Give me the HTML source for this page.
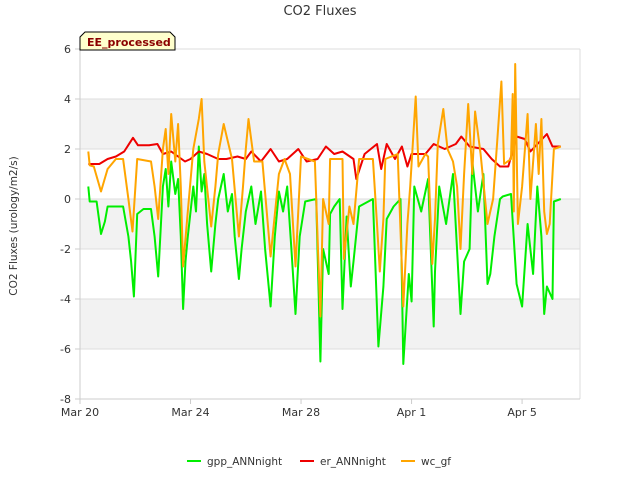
<!DOCTYPE html>
<html><head><meta charset="utf-8"><style>
body{margin:0;background:#fff;font-family:"Liberation Sans",sans-serif;}
svg text{font-family:"DejaVu Sans","Liberation Sans",sans-serif;}
</style></head><body>
<svg id="chart" width="640" height="480" viewBox="0 0 640 480">
<text x="320" y="15" text-anchor="middle" font-size="13" fill="#333">CO2 Fluxes</text>
<text transform="translate(17,226) rotate(-90)" text-anchor="middle" font-size="10.5" fill="#333">CO2 Fluxes (urology/m2/s)</text>
<g id="bands"></g><g id="grid"></g><g id="series"></g><g id="axes"></g>
<g>
<path d="M80,37 L85,32 L170,32 L175,37 L175,50 L80,50 Z" fill="#ffffcc" stroke="#000" stroke-width="1"/>
<text x="87" y="46" font-size="11" font-weight="bold" fill="#8b0000">EE_processed</text>
</g>
<g id="legend"></g>
</svg>
<script>
const yTicks=[6,4,2,0,-2,-4,-6,-8];
const xTickDays=[0,4,8,12,16];
const xTickLabels=["Mar 20","Mar 24","Mar 28","Apr 1","Apr 5"];
const gppT=[0.3,0.35,0.6,0.76,0.9,1.0,1.3,1.56,1.75,1.85,1.95,2.07,2.3,2.57,2.7,2.83,3.0,3.1,3.2,3.3,3.45,3.55,3.65,3.73,3.82,3.9,4.1,4.2,4.3,4.4,4.5,4.6,4.75,4.9,5.0,5.2,5.35,5.5,5.6,5.75,5.85,6.0,6.2,6.35,6.55,6.7,6.9,7.05,7.2,7.35,7.5,7.65,7.8,7.95,8.15,8.55,8.7,8.8,9.0,9.05,9.2,9.4,9.5,9.65,9.8,9.9,10.1,10.6,10.8,10.98,11.1,11.35,11.6,11.7,11.9,12.0,12.1,12.35,12.6,12.8,12.85,13.0,13.25,13.5,13.77,13.9,14.1,14.2,14.4,14.6,14.75,14.85,15.0,15.2,15.3,15.6,15.8,16.0,16.2,16.4,16.55,16.7,16.8,16.9,17.1,17.15,17.4];
const gppV=[0.5,-0.1,-0.1,-1.4,-0.9,-0.3,-0.3,-0.3,-1.5,-2.5,-3.9,-0.6,-0.4,-0.4,-1.5,-3.1,0.5,1.2,-0.3,1.5,0.2,0.8,-1.5,-4.4,-2.5,-1.5,0.5,-0.5,2.1,0.3,1.0,-1.0,-2.9,-1.0,0.0,1.0,-0.5,0.2,-1.5,-3.2,-2.0,-0.5,0.5,-1.0,0.3,-2.0,-4.3,-1.5,0.3,-0.5,0.5,-2.0,-4.6,-1.5,-0.1,0.0,-6.5,-2.0,-3.0,-0.6,-0.3,0.0,-4.4,-0.7,-3.5,-2.5,-0.3,0.0,-5.9,-3.5,-0.8,-0.3,0.0,-6.6,-3.0,-4.1,0.5,-0.5,0.8,-5.1,-2.9,0.5,-1.0,1.0,-4.6,-2.5,-2.0,1.5,-0.5,1.0,-3.4,-3.0,-1.5,0.0,0.1,0.2,-3.4,-4.3,-1.0,-3.0,0.5,-1.5,-4.6,-3.5,-4.0,-0.1,0.0];
const erT=[0.3,0.7,1.0,1.3,1.6,1.92,2.1,2.5,2.8,3.0,3.3,3.55,3.8,4.0,4.3,4.6,5.0,5.3,5.7,6.0,6.2,6.55,6.9,7.2,7.5,7.9,8.2,8.6,8.9,9.0,9.2,9.5,9.9,10.0,10.3,10.75,10.9,11.1,11.4,11.65,11.85,12.0,12.5,12.8,13.2,13.6,13.8,14.1,14.6,14.9,15.2,15.5,15.8,16.1,16.3,16.9,17.1,17.4];
const erV=[1.4,1.4,1.6,1.7,1.9,2.45,2.15,2.15,2.2,1.8,1.9,1.7,1.5,1.6,1.9,1.8,1.6,1.6,1.7,1.6,1.9,1.5,2.0,1.5,1.6,2.0,1.5,1.6,2.1,2.0,1.8,1.9,1.6,0.8,1.8,2.2,1.2,2.2,1.6,2.1,1.3,1.8,1.8,2.2,2.0,2.2,2.5,2.1,2.0,1.6,1.3,1.3,2.5,2.4,1.9,2.6,2.1,2.1];
const wcT=[0.3,0.35,0.5,0.76,1.0,1.3,1.56,1.75,1.9,2.07,2.57,2.7,2.83,3.0,3.1,3.2,3.3,3.45,3.55,3.65,3.73,3.9,4.1,4.3,4.4,4.5,4.75,4.9,5.0,5.2,5.5,5.75,5.9,6.0,6.1,6.3,6.6,6.9,7.2,7.4,7.6,7.8,8.0,8.5,8.7,8.8,9.0,9.05,9.5,9.55,9.75,9.9,10.1,10.6,10.75,10.85,10.98,11.05,11.5,11.7,11.85,11.95,12.15,12.25,12.5,12.6,12.75,12.85,12.95,13.15,13.3,13.5,13.65,13.77,13.9,14.05,14.2,14.3,14.5,14.75,14.95,15.1,15.25,15.35,15.6,15.66,15.7,15.75,15.85,16.0,16.2,16.3,16.5,16.6,16.7,16.8,16.9,17.0,17.1,17.15,17.4];
const wcV=[1.9,1.35,1.3,0.3,1.2,1.6,1.6,0.0,-1.3,1.6,1.5,0.5,-0.8,2.0,2.8,1.0,3.4,1.5,3.0,0.5,-2.7,-0.5,2.0,3.2,4.0,1.5,-1.1,0.5,1.8,3.0,1.6,-1.5,0.5,2.0,3.2,1.5,1.5,-2.3,1.0,1.6,1.0,-2.7,1.7,1.5,-4.7,0.0,-1.0,1.6,1.6,-2.4,-0.3,-1.0,1.6,1.6,-1.0,-2.9,-0.8,1.6,1.8,-4.3,-1.0,0.5,4.1,1.3,1.8,1.7,-2.6,-0.8,2.2,3.6,2.0,1.5,0.5,-2.0,1.0,3.8,1.0,3.5,1.8,-1.0,0.0,2.3,4.7,1.4,1.6,4.2,-0.5,5.4,-1.0,0.5,3.4,0.0,3.0,1.0,3.2,-0.5,-1.4,-1.0,1.0,2.0,2.1];
const NS="http://www.w3.org/2000/svg";
const X0=80,X1=580,Y0=49,Y1=399,PXD=27.63;
function xs(t){return X0+t*PXD;}
function ys(v){return 199-v*25;}
function mk(tag,attrs,parent){const e=document.createElementNS(NS,tag);for(const k in attrs)e.setAttribute(k,attrs[k]);parent.appendChild(e);return e;}
const bands=document.getElementById('bands'),grid=document.getElementById('grid'),axes=document.getElementById('axes'),series=document.getElementById('series'),legend=document.getElementById('legend');
mk('rect',{x:X0,y:Y0,width:X1-X0,height:Y1-Y0,fill:'#fff'},bands);
for(let i=0;i<yTicks.length-1;i++){
  if(i%2===1){const r=mk('rect',{x:X0,y:ys(yTicks[i]),width:X1-X0,height:ys(yTicks[i+1])-ys(yTicks[i]),fill:'#f2f2f2'},bands);
  
  }
}
yTicks.forEach(v=>{
  const l=mk('line',{x1:X0,x2:X1,y1:ys(v),y2:ys(v),stroke:'#ddd','stroke-width':1},grid);
  
  
  const tk=mk('line',{x1:X0-5,x2:X0,y1:ys(v),y2:ys(v),stroke:'#ccc'},axes);
  
  
  const t=mk('text',{x:71,y:ys(v)+4,'text-anchor':'end','font-size':11,fill:'#333'},axes);t.textContent=v;
  
  
});
mk('line',{x1:X0,x2:X0,y1:Y0,y2:Y1,stroke:'#ccc'},axes);
mk('line',{x1:X1,x2:X1,y1:Y0,y2:Y1,stroke:'#ddd'},axes);
mk('line',{x1:X0,x2:X1,y1:Y1,y2:Y1,stroke:'#ccc'},axes);
xTickDays.forEach((d,i)=>{
  const tk=mk('line',{x1:xs(d),x2:xs(d),y1:Y1,y2:Y1+5,stroke:'#ccc'},axes);
  
  
  const t=mk('text',{x:xs(d),y:416,'text-anchor':'middle','font-size':11,fill:'#333'},axes);t.textContent=xTickLabels[i];
  
  
});
function line(T,V,color,name){
  const p=mk('polyline',{points:T.map((t,i)=>xs(t).toFixed(1)+','+ys(V[i]).toFixed(1)).join(' '),fill:'none',stroke:color,'stroke-width':2,'stroke-linejoin':'round'},series);
  
  
}
line(gppT,gppV,'#00ee00','gpp-annnight-line');
line(erT,erV,'#ee0000','er-annnight-line');
line(wcT,wcV,'#ffa500','wc-gf-line');
const leg=[['gpp_ANNnight','#00ee00',187,'legend-gpp'],['er_ANNnight','#ee0000',300,'legend-er'],['wc_gf','#ffa500',401,'legend-wc']];
leg.forEach(e=>{
  const g=mk('g',{},legend);
  
  
  mk('line',{x1:e[2],x2:e[2]+14,y1:461,y2:461,stroke:e[1],'stroke-width':2},g);
  const t=mk('text',{x:e[2]+20,y:465,'font-size':10.5,fill:'#333'},g);t.textContent=e[0];
});
</script>
</body></html>
